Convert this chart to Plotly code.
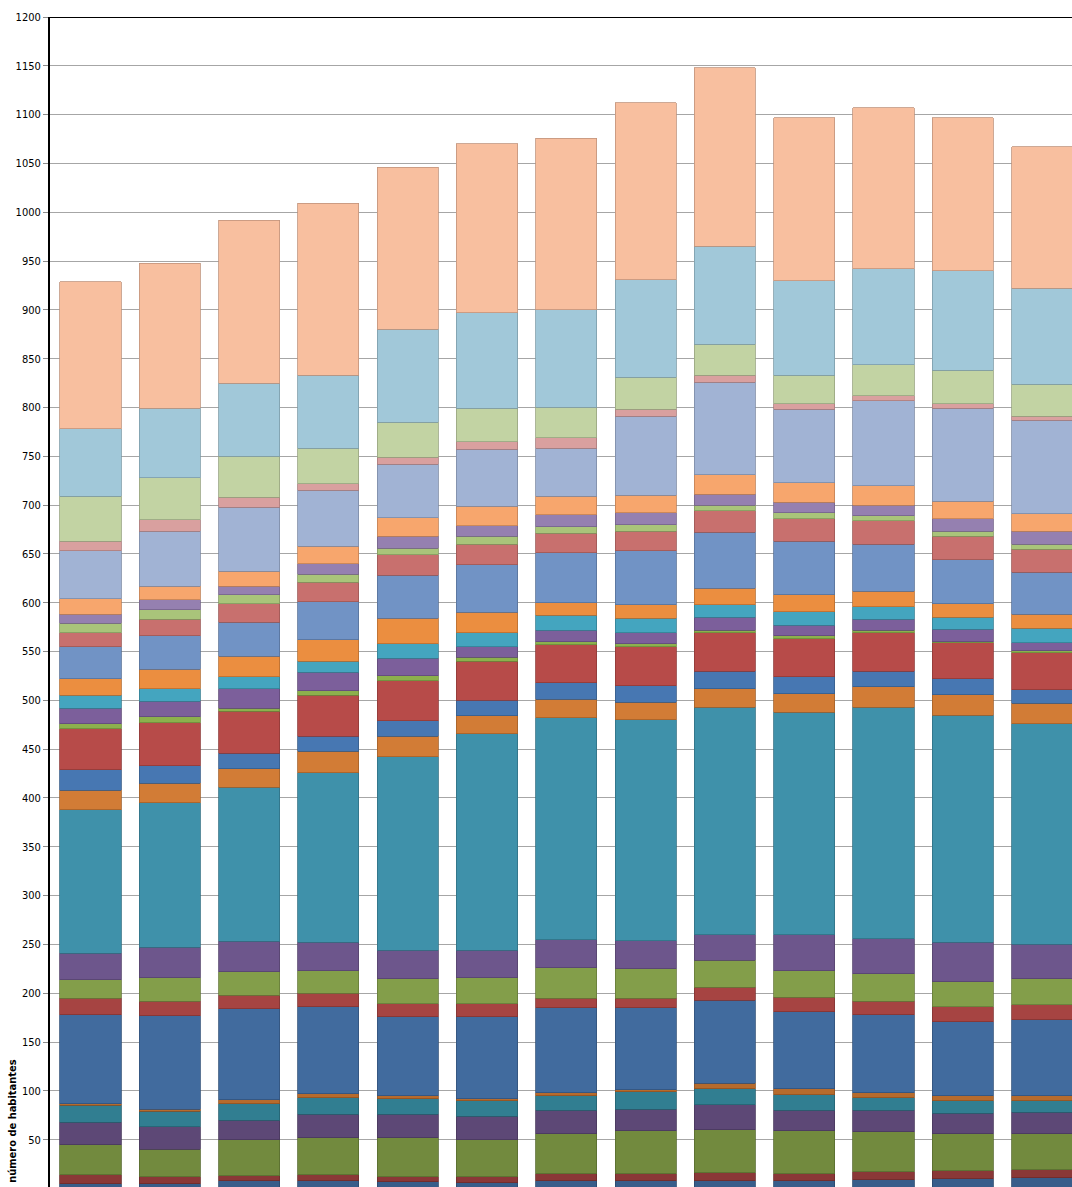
import plotly.graph_objects as go

# Periods on the horizontal axis (one stacked bar each)
periods = ["2000", "2001", "2002", "2003", "2004", "2005", "2006",
           "2007", "2008", "2009", "2010", "2011", "2012"]

# Inhabitants per group, listed from the bottom of each stack upwards
g01 = [5, 5, 8, 8, 7, 6, 8, 8, 8, 8, 9, 10, 11]
g02 = [9, 7, 5, 6, 5, 6, 7, 7, 8, 7, 8, 8, 8]
g03 = [31, 28, 37, 38, 40, 38, 41, 44, 44, 44, 41, 38, 37]
g04 = [23, 23, 20, 24, 24, 24, 24, 22, 26, 21, 22, 21, 22]
g05 = [17, 16, 17, 17, 16, 16, 15, 18, 16, 16, 13, 13, 12]
g06 = [2, 2, 4, 4, 3, 2, 3, 2, 6, 6, 5, 5, 5]
g07 = [91, 96, 93, 89, 81, 84, 87, 84, 85, 79, 80, 76, 78]
g08 = [17, 15, 14, 14, 13, 13, 10, 10, 13, 15, 14, 15, 15]
g09 = [19, 24, 24, 23, 26, 27, 31, 30, 28, 27, 28, 26, 27]
g10 = [27, 31, 31, 29, 29, 28, 29, 29, 26, 37, 36, 40, 35]
g11 = [147, 148, 158, 174, 198, 222, 227, 226, 233, 228, 237, 233, 226]
g12 = [20, 20, 19, 22, 21, 18, 19, 18, 19, 19, 21, 21, 21]
g13 = [21, 18, 16, 15, 16, 16, 17, 17, 18, 17, 16, 16, 14]
g14 = [42, 44, 43, 42, 41, 40, 39, 40, 39, 39, 39, 37, 38]
g15 = [5, 6, 3, 5, 5, 4, 3, 3, 3, 3, 3, 1, 2]
g16 = [16, 16, 20, 19, 18, 11, 12, 11, 13, 11, 11, 13, 8]
g17 = [13, 13, 12, 11, 15, 14, 15, 15, 13, 14, 13, 12, 15]
g18 = [17, 20, 21, 22, 26, 21, 13, 14, 17, 17, 16, 14, 14]
g19 = [33, 34, 35, 39, 44, 49, 51, 55, 57, 55, 48, 45, 43]
g20 = [14, 17, 19, 20, 21, 21, 20, 20, 22, 23, 24, 24, 24]
g21 = [10, 10, 9, 8, 7, 8, 7, 7, 6, 6, 5, 5, 5]
g22 = [9, 10, 9, 11, 12, 11, 12, 12, 11, 11, 11, 13, 13]
g23 = [16, 14, 15, 18, 19, 20, 19, 18, 20, 20, 20, 18, 18]
g24 = [49, 56, 66, 57, 55, 58, 49, 81, 95, 75, 87, 95, 96]
g25 = [10, 12, 10, 7, 7, 8, 11, 7, 7, 6, 5, 5, 4]
g26 = [46, 43, 42, 36, 36, 34, 31, 33, 32, 29, 32, 34, 33]
g27 = [69, 71, 75, 75, 95, 98, 100, 100, 100, 97, 98, 102, 98]
g28 = [151, 149, 167, 176, 166, 173, 176, 181, 183, 167, 165, 157, 145]

groups = [g01, g02, g03, g04, g05, g06, g07, g08, g09, g10, g11, g12, g13, g14,
          g15, g16, g17, g18, g19, g20, g21, g22, g23, g24, g25, g26, g27, g28]
group_names = [f"grupo {i + 1}" for i in range(len(groups))]

# Office-style palette in shaded tiers (dark -> light)
colors = [
    "#385D8A", "#8A3837", "#728A3E", "#5D4876", "#317E91", "#B66B2D",
    "#416B9E", "#A64442", "#839E4A", "#6D568C", "#3F91AA", "#D27C36",
    "#4777B2", "#B74B49", "#8CB04D", "#7C5F9B", "#44A5BF", "#EB8E40",
    "#7193C5", "#C8706E", "#A9C47A", "#9580B0", "#F7A66D",
    "#A1B3D4", "#D9A09F", "#C2D3A3", "#A1C8D9", "#F8BF9F",
]


def darker(hex_color, f=0.78):
    h = hex_color.lstrip("#")
    r, g, b = (int(h[i:i + 2], 16) for i in (0, 2, 4))
    return f"rgb({int(r * f)},{int(g * f)},{int(b * f)})"


fig = go.Figure()
for name, vals, col in zip(group_names, groups, colors):
    fig.add_trace(go.Bar(
        x=periods, y=vals, name=name,
        marker=dict(color=col, line=dict(color=darker(col), width=0.8)),
    ))

narrow = "DejaVu Sans Condensed, Liberation Sans Narrow, Arial Narrow, sans-serif"
label_font = dict(family=narrow, size=11, color="#000000")

fig.update_layout(
    barmode="stack",
    bargap=0.23,
    width=1072, height=1187,
    margin=dict(l=50, r=0, t=17, b=0, autoexpand=False),
    paper_bgcolor="white", plot_bgcolor="white",
    showlegend=False,
    font=label_font,
    xaxis=dict(range=[-0.511, 12.377], showticklabels=False, showgrid=False,
               zeroline=False, ticks="", showline=False, fixedrange=True),
    yaxis=dict(range=[1.5, 1200], dtick=50, tick0=0,
               showgrid=True, gridcolor="#A6A6A6", gridwidth=1.2,
               zeroline=False, showline=True, linecolor="#000000", linewidth=2,
               ticks="outside", ticklen=5, tickcolor="#8C8C8C", tickwidth=1,
               tickfont=label_font, automargin=False),
    shapes=[dict(type="line", xref="paper", yref="y", x0=0, x1=1, y0=1200, y1=1200,
                 line=dict(color="#000000", width=2))],
    annotations=[dict(text="<b>número de habitantes</b>", textangle=-90,
                      xref="paper", yref="paper", x=-0.037, y=0.002,
                      xanchor="center", yanchor="bottom", showarrow=False,
                      font=dict(family=narrow, size=11, color="#000000"))],
)

fig.write_html("out.html")
